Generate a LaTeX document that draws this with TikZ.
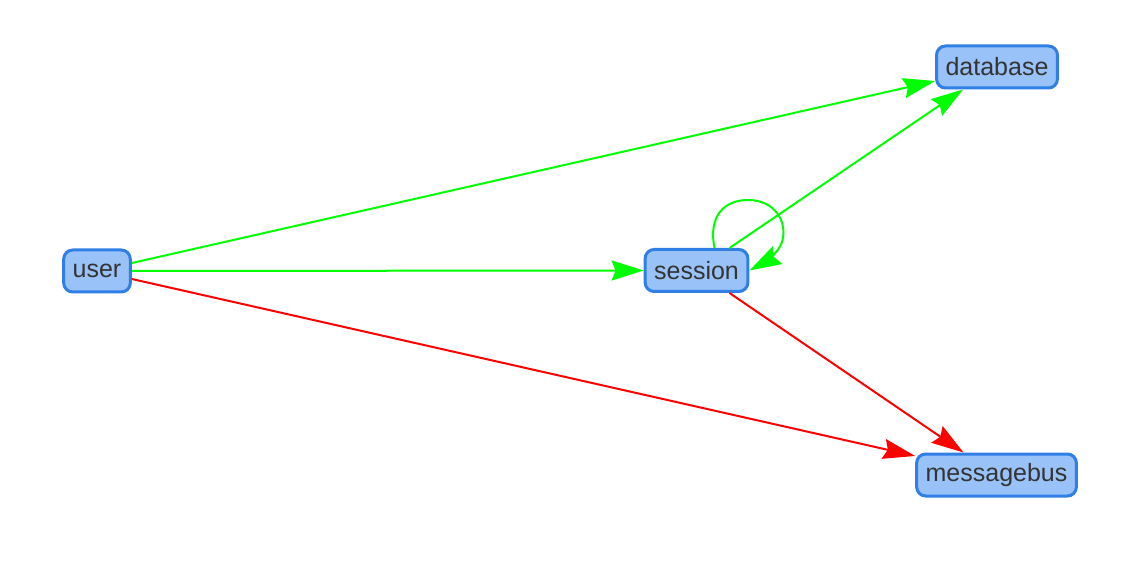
\documentclass[tikz,border=0pt]{standalone}
\usepackage{fontspec}
\setmainfont{Liberation Sans}
\usetikzlibrary{arrows.meta}
\definecolor{boxfill}{HTML}{99C2F8}
\definecolor{boxline}{HTML}{2F7FE6}
\definecolor{boxtext}{HTML}{333333}
\definecolor{okline}{HTML}{00FF00}
\definecolor{badline}{HTML}{FF0000}
\tikzset{
  box/.style={draw=boxline, fill=boxfill, text=boxtext, line width=3pt,
    rounded corners=9pt, minimum height=42pt, inner xsep=9pt,
    font=\fontsize{25}{29}\selectfont},
  link/.style={line width=2pt,
    -{Stealth[length=32pt, width=20pt, inset=4pt]}},
  ok/.style={link, draw=okline, okline},
  bad/.style={link, draw=badline, badline}
}
\begin{document}
\begin{tikzpicture}[x=1pt, y=1pt]
        \useasboundingbox (0,0) rectangle (1146,-561);

        \node [box] (user) at (97,-271) {user};
        \node [box] (session) at (696.5,-270.5) {session};
        \node [box] (database) at (997,-67) {database};
        \node [box] (messagebus) at (996.5,-475) {messagebus};

        \draw [ok] ([yshift=8pt]user.east) -- ([yshift=-14pt]database.west);
        \draw [ok] (user.east) -- (session.west);
        \draw [bad] ([yshift=-8pt]user.east) -- ([yshift=19pt]messagebus.west);

        \draw [ok] ([xshift=33pt]session.north) -- ([xshift=-34pt]database.south);
        \draw [bad] ([xshift=33pt]session.south) -- ([xshift=-33pt]messagebus.north);

        \draw [ok] ([xshift=18pt]session.north)
        .. controls (708,-215) and (725,-200) .. (748,-200)
        .. controls (775,-200) and (788,-222) .. (782,-242)
        .. controls (779,-252) and (765,-262) .. (session.east);
      \end{tikzpicture}
\end{document}
